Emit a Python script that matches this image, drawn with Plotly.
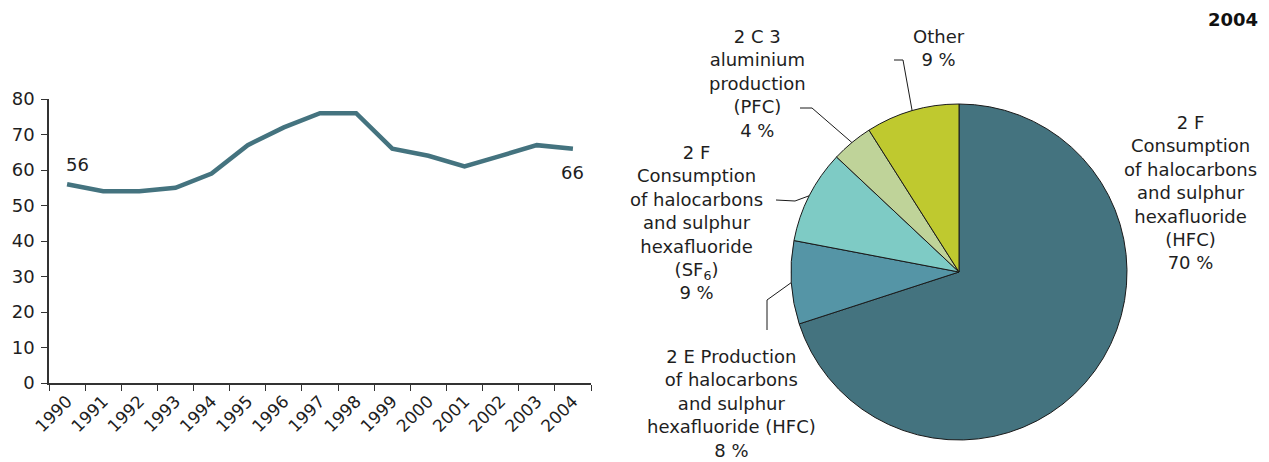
import math
import plotly.graph_objects as go

# ---- data ----
years = [str(y) for y in range(1990, 2005)]
values = [56, 54, 54, 55, 59, 67, 72, 76, 76, 66, 64, 61, 64, 67, 66]

pie_labels = [
    "2 F<br>Consumption<br>of halocarbons<br>and sulphur<br>hexafluoride<br>(HFC)",
    "2 E Production<br>of halocarbons<br>and sulphur<br>hexafluoride (HFC)",
    "2 F<br>Consumption<br>of halocarbons<br>and sulphur<br>hexafluoride<br>(SF<sub>6</sub>)",
    "2 C 3<br>aluminium<br>production<br>(PFC)",
    "Other",
]
pie_values = [70, 8, 9, 4, 9]
pie_colors = ["#44737f", "#5595a6", "#7ecbc5", "#bfd399", "#bfc92f"]

# page body has an 8px margin: size the figure to fit and work in window pixels
OFF = 8
W, H = 1269 - OFF, 462 - OFF
FONT = "DejaVu Sans"
TXT = "#1e1e1e"

def px(x):
    return (x - OFF) / W

def py(y):
    return 1 - (y - OFF) / H

fig = go.Figure()

fig.add_trace(go.Scatter(
    x=years, y=values, mode="lines",
    line=dict(color="#44737f", width=4.5),
    xaxis="x", yaxis="y", showlegend=False, hoverinfo="x+y",
))

# pie geometry (window pixels)
cx, cy, r = 959, 272, 168
fig.add_trace(go.Pie(
    labels=["HFC consumption", "HFC production", "SF6", "PFC", "Other"],
    values=pie_values, sort=False, direction="clockwise", rotation=0,
    marker=dict(colors=pie_colors, line=dict(color="#1a1a1a", width=1)),
    textinfo="none", showlegend=False,
    domain=dict(x=[px(cx - r), px(cx + r)], y=[py(cy + r), py(cy - r)]),
))

# label positions (pixels) and leader-line elbows
label_pos = [(1190, 192), (731, 403), (697, 222), (757, 84), (939, 48)]
elbows = [None,
          [(767, 330), (767, 300)],
          [(776, 200), (795, 201)],
          [(800, 108), (812, 108)],
          [(894, 60), (903, 60)]]

annotations = []
shapes = []
total = sum(pie_values)
cum = 0
for lab, v, (lx, ly), el in zip(pie_labels, pie_values, label_pos, elbows):
    pct = round(100 * v / total)
    annotations.append(dict(
        text=f"{lab}<br>{pct} %", x=px(lx), y=py(ly), xref="paper", yref="paper",
        xanchor="center", yanchor="middle", showarrow=False, align="center",
        font=dict(family=FONT, size=18, color=TXT),
    ))
    mid = (cum + v / 2) / total * 2 * math.pi
    cum += v
    if el is not None:
        ex = cx + r * math.sin(mid)
        ey = cy - r * math.cos(mid)
        pts = el + [(ex, ey)]
        path = "M " + " L ".join(f"{px(a)},{py(b)}" for a, b in pts)
        shapes.append(dict(type="path", path=path, xref="paper", yref="paper",
                           line=dict(color="#1a1a1a", width=1)))

annotations.append(dict(
    text="<b>2004</b>", x=px(1260), y=py(20), xref="paper", yref="paper",
    xanchor="right", yanchor="middle", showarrow=False,
    font=dict(family=FONT, size=18, color="#111"),
))
# end labels on the line (x given as category index)
annotations.append(dict(text=str(values[0]), x=0, y=values[0], xref="x", yref="y",
                        showarrow=False, yshift=20, xshift=10,
                        font=dict(family=FONT, size=18, color=TXT)))
annotations.append(dict(text=str(values[-1]), x=len(years) - 1, y=values[-1], xref="x", yref="y",
                        showarrow=False, yshift=-24,
                        font=dict(family=FONT, size=18, color=TXT)))

fig.update_layout(
    width=W, height=H, margin=dict(l=0, r=0, t=0, b=0, autoexpand=False),
    paper_bgcolor="white", plot_bgcolor="white",
    font=dict(family=FONT, size=17, color=TXT),
    xaxis=dict(domain=[px(49), px(591)], type="category", tickson="boundaries",
               range=[-0.5, len(years) - 0.5], autorange=False,
               ticks="outside", ticklen=6, tickcolor="#333", showline=True,
               linecolor="#333", linewidth=1.5, showgrid=False, tickangle=-45,
               tickfont=dict(family=FONT, size=17, color=TXT), anchor="y",
               automargin=False),
    yaxis=dict(domain=[py(383), py(99)], range=[0, 80], dtick=10,
               ticks="outside", ticklen=6, tickcolor="#333", showline=True,
               linecolor="#333", linewidth=1.5, showgrid=False, zeroline=False,
               tickfont=dict(family=FONT, size=18, color=TXT), anchor="x",
               ticklabelstandoff=3, automargin=False),
    annotations=annotations, shapes=shapes,
)

fig.write_html("out.html")
